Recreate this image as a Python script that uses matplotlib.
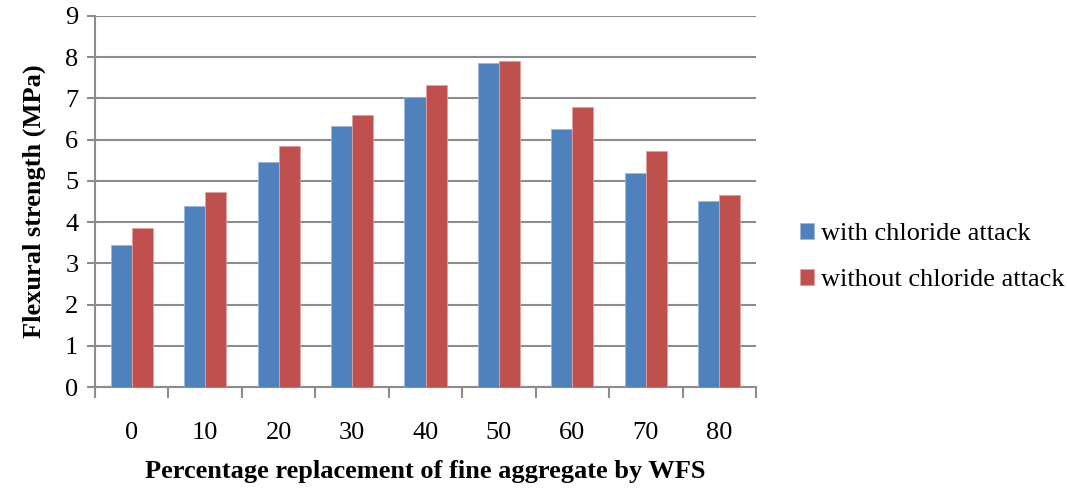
import matplotlib
matplotlib.use("Agg")
import matplotlib.pyplot as plt
import numpy as np

categories = ["0", "10", "20", "30", "40", "50", "60", "70", "80"]
with_chloride = [3.45, 4.39, 5.45, 6.32, 7.04, 7.85, 6.25, 5.19, 4.52]
without_chloride = [3.85, 4.73, 5.85, 6.59, 7.32, 7.92, 6.79, 5.73, 4.66]
series_names = ["with chloride attack", "without chloride attack"]

plt.rcParams["font.family"] = ["Liberation Serif", "DejaVu Serif"]

fig = plt.figure(figsize=(10.67, 4.88), dpi=100)
ax = fig.add_axes([95 / 1067, 1 - 387 / 488, (756 - 95) / 1067, (387 - 16) / 488])

x = np.arange(len(categories))
w = 0.286
grid_c = "#8c8c8c"
ax.bar(x - w / 2, with_chloride, w, color="#4F81BD", edgecolor="#9bb7dc",
       linewidth=0.6, label=series_names[0], zorder=3)
ax.bar(x + w / 2, without_chloride, w, color="#C0504D", edgecolor="#e0a09e",
       linewidth=0.6, label=series_names[1], zorder=3)

ax.set_xlim(-0.5, len(categories) - 0.5)
ax.set_ylim(0, 9)
ax.set_yticks(range(0, 10))
ax.yaxis.grid(True, color=grid_c, linewidth=1.5, zorder=0)
ax.set_axisbelow(True)

for s in ["top", "right"]:
    ax.spines[s].set_visible(False)
for s in ["left", "bottom"]:
    ax.spines[s].set_color(grid_c)
    ax.spines[s].set_linewidth(1.5)

# category labels centred under each group, tick marks on group boundaries
ax.set_xticks(np.arange(-0.5, len(categories)), minor=False)
ax.set_xticklabels([])
ax.set_xticks(x, minor=True)
ax.set_xticklabels(categories, minor=True)
ax.tick_params(axis="x", which="major", direction="out", length=8,
               width=1.5, color=grid_c)
ax.tick_params(axis="x", which="minor", length=0, pad=25, labelsize=19)
ax.tick_params(axis="y", direction="out", length=6, width=1.5,
               color=grid_c, labelsize=19, pad=6)

ax.set_ylabel("Flexural strength (MPa)", fontsize=19, fontweight="bold",
              labelpad=14)
ax.set_xlabel("Percentage replacement of fine aggregate by WFS", fontsize=19,
              fontweight="bold", labelpad=12)

fig.legend(loc="center left", bbox_to_anchor=(776 / 1067, 1 - 257 / 488),
           frameon=False, fontsize=19, handlelength=0.55, handleheight=0.55,
           handletextpad=0.25, labelspacing=0.9)

fig.savefig("out.png", dpi=100)
